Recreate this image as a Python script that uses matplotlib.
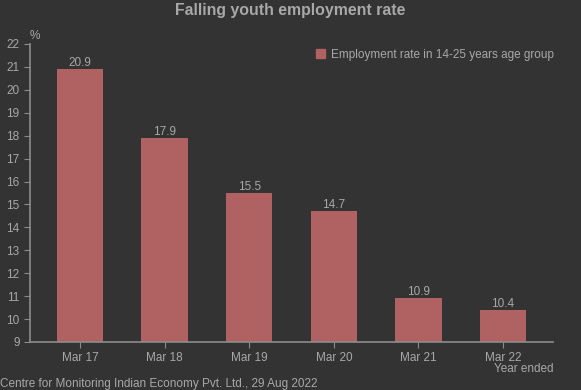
import matplotlib.pyplot as plt
from matplotlib.patches import Patch

years = ['Mar 17', 'Mar 18', 'Mar 19', 'Mar 20', 'Mar 21', 'Mar 22']
rate = [20.9, 17.9, 15.5, 14.7, 10.9, 10.4]

bg = '#333333'
bar_color = '#b06262'
text_color = '#a8a8a8'
axis_color = '#8c8c8c'

plt.rcParams['font.family'] = ['Liberation Sans', 'DejaVu Sans']

fig = plt.figure(figsize=(5.81, 3.90), dpi=100, facecolor=bg)
ax = fig.add_axes([30 / 581, 1 - 342 / 390, 523 / 581, 298 / 390], facecolor=bg)

x = list(range(len(years)))
bars = ax.bar(x, rate, width=0.55, bottom=0, color=bar_color)
for xi, v in zip(x, rate):
    ax.text(xi, v, f'{v}', ha='center', va='bottom', color=text_color, fontsize=8.5)

ax.set_ylim(9, 22)
ax.set_xlim(-0.59, 5.59)
ax.set_yticks(range(9, 23))
ax.set_xticks(x)
ax.set_xticklabels(years)

for s in ['top', 'right']:
    ax.spines[s].set_visible(False)
for s in ['left', 'bottom']:
    ax.spines[s].set_color(axis_color)
    ax.spines[s].set_linewidth(1.2)
ax.tick_params(colors=axis_color, labelcolor=text_color, labelsize=8.5, length=4)

fig.text(0.5, 1 - 11 / 390, 'Falling youth employment rate', ha='center', va='center',
         color=text_color, fontsize=11.4, fontweight='bold')
fig.text(30 / 581, 1 - 36 / 390, '%', ha='left', va='center', color=text_color, fontsize=8.5)
fig.text(553 / 581, 1 - 369 / 390, 'Year ended', ha='right', va='center', color=text_color, fontsize=8.5)
fig.text(0 / 581, 1 - 384 / 390, 'Centre for Monitoring Indian Economy Pvt. Ltd., 29 Aug 2022',
         ha='left', va='center', color=text_color, fontsize=8.5)

leg = fig.legend(handles=[Patch(color=bar_color, label='Employment rate in 14-25 years age group')],
                 loc='center right', bbox_to_anchor=(554 / 581, 1 - 55 / 390), frameon=False,
                 fontsize=8.5, borderpad=0, borderaxespad=0,
                 handlelength=0.8, handleheight=0.8, handletextpad=0.5, labelcolor=text_color)

fig.savefig('out.png', dpi=100, facecolor=bg)
